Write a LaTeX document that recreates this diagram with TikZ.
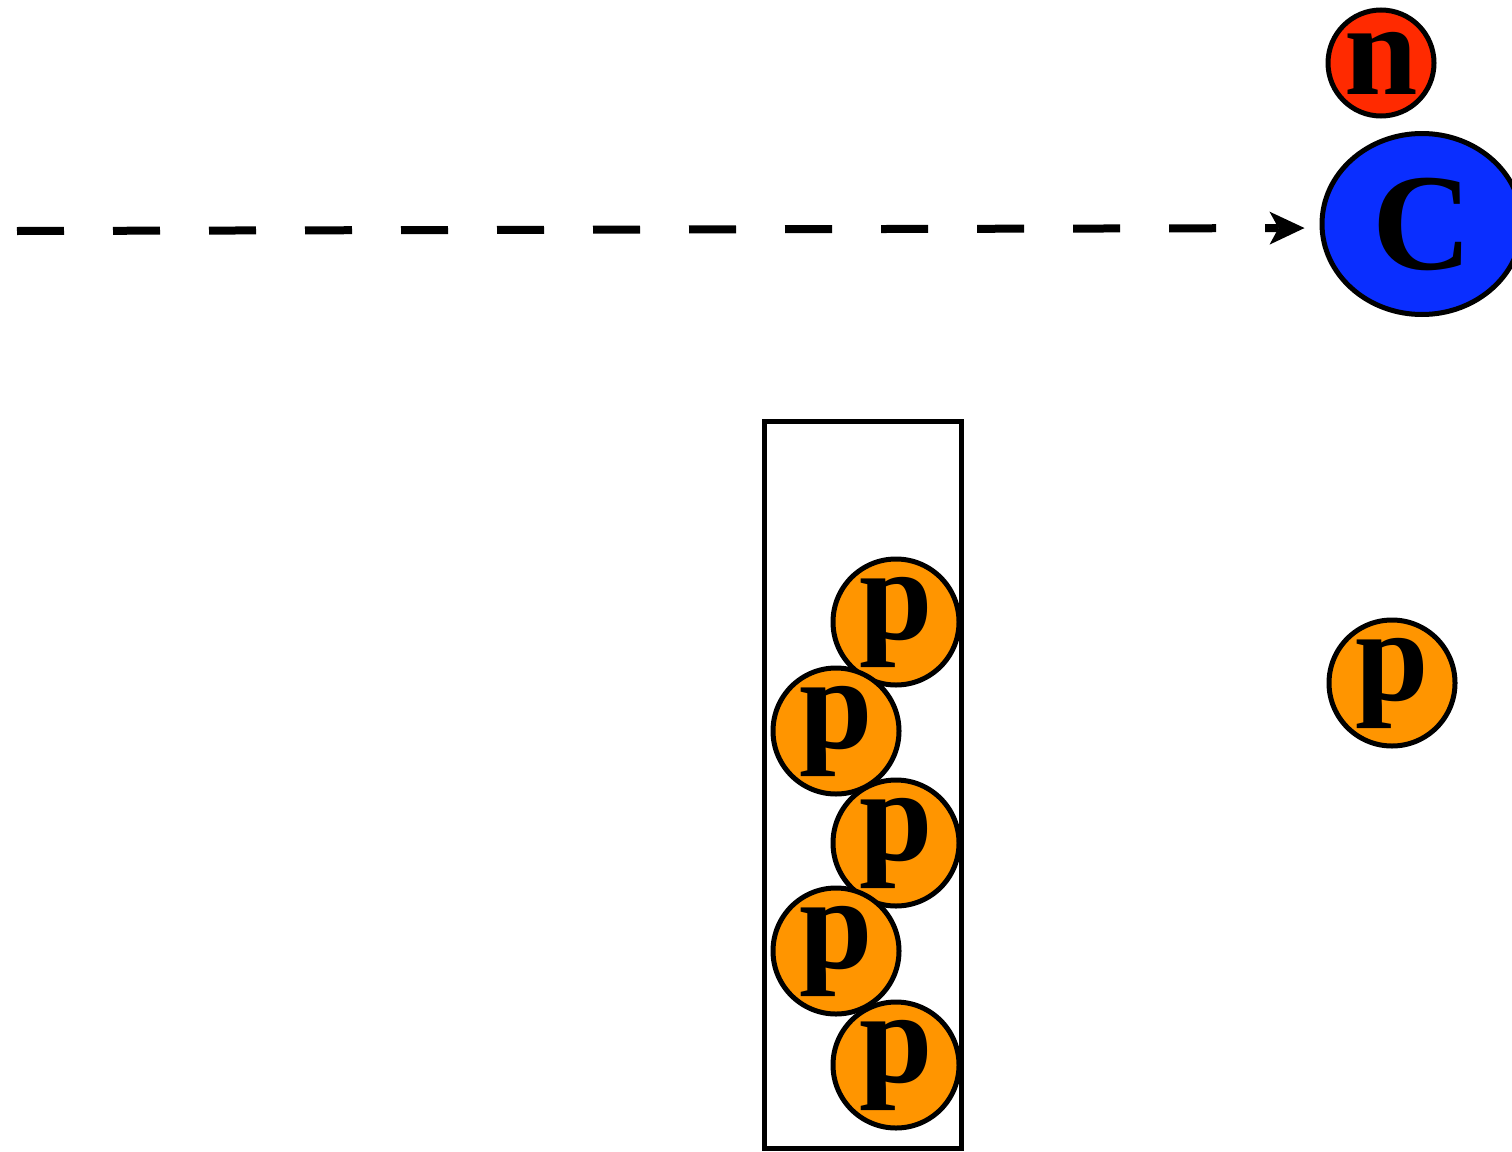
\documentclass[tikz,border=0pt]{standalone}
\usepackage{fontspec}
\setmainfont{Liberation Serif}
\newfontfamily\labelfont{Liberation Serif Bold}
\usetikzlibrary{arrows.meta,shapes.geometric}
\definecolor{protonorange}{HTML}{FF9500}
\definecolor{neutronred}{HTML}{FF2A00}
\definecolor{nucleusblue}{HTML}{0A2EFF}
\tikzset{
  particle/.style={circle, draw=black, line width=5pt, inner sep=0pt,
    font=\labelfont\fontsize{132}{132}\selectfont},
  proton/.style={particle, fill=protonorange, minimum size=126pt},
  neutron/.style={particle, fill=neutronred, minimum size=106pt},
  nucleus/.style={ellipse, draw=black, line width=5pt, inner sep=0pt,
    fill=nucleusblue, minimum width=200pt, minimum height=181pt,
    font=\labelfont\fontsize{138}{138}\selectfont},
  tube/.style={draw=black, line width=5pt, inner sep=0pt, fill=none},
  beam/.style={line width=8pt, dash pattern=on 47pt off 49pt,
    -{Stealth[length=35pt,width=33pt,inset=9pt,line width=0pt]}},
}
\begin{document}
\begin{tikzpicture}[x=1pt,y=-1pt]
  \useasboundingbox (0,0) rectangle (1512,1151);

  % target nucleus with neutron
  \node[neutron] (n) at (1381,63) {n};
  \node[nucleus] (C) at (1422,224) {C};

  % incoming beam
  \coordinate (src) at (17,231);
  \draw[beam, shorten >=15pt] (src) -- ([yshift=-4pt]C.west);

  % column holding the stacked protons
  \node[tube, minimum width=197pt, minimum height=727pt] (col) at (862.5,784.5) {};
  \node[proton] (p1) at (896,622) {p};
  \node[proton] (p2) at (836,731) {p};
  \node[proton] (p3) at (896,843) {p};
  \node[proton] (p4) at (836,951) {p};
  \node[proton] (p5) at (896,1065) {p};

  % free proton
  \node[proton] (p6) at (1392,683) {p};
\end{tikzpicture}
\end{document}
